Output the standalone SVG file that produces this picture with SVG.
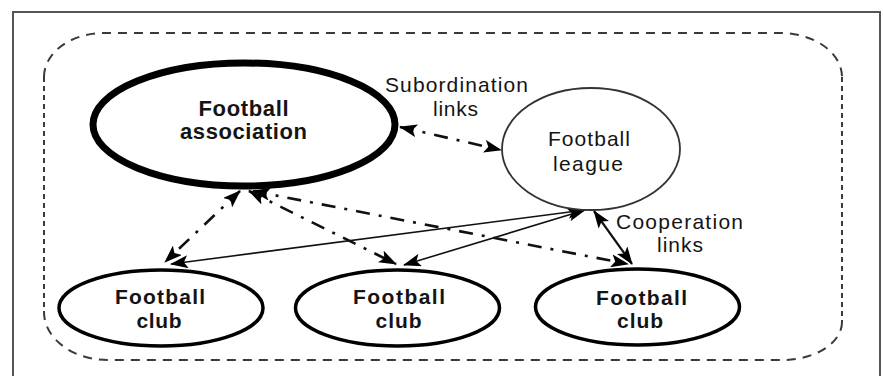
<svg xmlns="http://www.w3.org/2000/svg" width="883" height="376" viewBox="0 0 883 376">
<defs>
<style>
.frame{fill:none;stroke:#555;stroke-width:2}
.bound{fill:none;stroke:#3a3a3a;stroke-width:2}
.fa{fill:#fff;stroke:#000;stroke-width:7}
.club{fill:#fff;stroke:#000;stroke-width:3.5}
.league{fill:#fff;stroke:#333;stroke-width:1.8}
.dd{fill:none;stroke:#111;stroke-width:2.6;stroke-dasharray:14 9 3 9}
.solid{fill:none;stroke:#111;stroke-width:1.6}
.coop{fill:none;stroke:#111;stroke-width:2.2}
.b{font-family:"Liberation Sans",Arial,sans-serif;font-weight:bold;font-size:21px;fill:#141414;text-anchor:middle}
.r{font-family:"Liberation Sans",Arial,sans-serif;font-size:21px;fill:#141414;text-anchor:middle}
</style>
<marker id="arr" viewBox="0 0 18 13" refX="17" refY="6.5" markerWidth="18" markerHeight="13" markerUnits="userSpaceOnUse" orient="auto-start-reverse">
<path d="M0,0 L18,6.5 L0,13 L4,6.5 Z" fill="#000" stroke="none"/>
</marker>
</defs>
<rect width="883" height="376" fill="#fff"/>
<rect class="frame" x="13" y="12" width="867" height="380"/>
<g id="boundary">
<path class="bound" style="stroke-dasharray:9 7" d="M44,77 A60,44 0 0 1 104,33 H780 A62,44 0 0 1 842,77"/>
<path class="bound" style="stroke-dasharray:9 7" d="M842,322 A60,38 0 0 1 782,360 H108 A64,48 0 0 1 44,312"/>
<path class="bound" style="stroke-dasharray:5 4" d="M44,77 V312 M842,77 V322"/>
</g>
<g id="connectors">
<line class="dd" x1="400" y1="127" x2="501" y2="150" marker-start="url(#arr)" marker-end="url(#arr)"/>
<line class="dd" x1="240" y1="191" x2="165" y2="262" marker-start="url(#arr)" marker-end="url(#arr)"/>
<line class="dd" x1="249" y1="191" x2="396" y2="264" marker-start="url(#arr)" marker-end="url(#arr)"/>
<line class="dd" x1="253" y1="191" x2="628" y2="264" marker-start="url(#arr)" marker-end="url(#arr)"/>
<line class="solid" x1="585" y1="210" x2="171" y2="264" marker-start="url(#arr)" marker-end="url(#arr)"/>
<line class="solid" x1="585" y1="210" x2="404" y2="265" marker-start="url(#arr)" marker-end="url(#arr)"/>
<line class="coop" x1="594" y1="211" x2="632" y2="264" marker-start="url(#arr)" marker-end="url(#arr)"/>
</g>
<g id="football-association">
<ellipse class="fa" cx="244" cy="124.5" rx="151" ry="61.5"/>
<text class="b" style="font-size:22px" x="243.5" y="115.5" textLength="90" lengthAdjust="spacing">Football</text>
<text class="b" style="font-size:22px" x="243.5" y="139" textLength="127" lengthAdjust="spacing">association</text>
</g>
<g id="football-league">
<ellipse class="league" cx="591" cy="149" rx="89" ry="61"/>
<text class="r" x="589" y="145.5" textLength="82" lengthAdjust="spacing">Football</text>
<text class="r" x="588" y="170.5" textLength="70" lengthAdjust="spacing">league</text>
</g>
<g id="club-1">
<ellipse class="club" cx="161" cy="308" rx="102" ry="38"/>
<text class="b" x="160" y="304" textLength="90" lengthAdjust="spacing">Football</text>
<text class="b" x="159" y="328" textLength="45" lengthAdjust="spacing">club</text>
</g>
<g id="club-2">
<ellipse class="club" cx="397.5" cy="308" rx="102" ry="38"/>
<text class="b" x="399" y="304" textLength="92" lengthAdjust="spacing">Football</text>
<text class="b" x="398.5" y="328" textLength="46" lengthAdjust="spacing">club</text>
</g>
<g id="club-3">
<ellipse class="club" cx="637.5" cy="307" rx="102" ry="38"/>
<text class="b" x="641.5" y="304.5" textLength="91" lengthAdjust="spacing">Football</text>
<text class="b" x="640" y="328" textLength="46" lengthAdjust="spacing">club</text>
</g>
<g id="labels">
<text class="r" x="456.5" y="92" textLength="143" lengthAdjust="spacing">Subordination</text>
<text class="r" x="455.5" y="115.5" textLength="45" lengthAdjust="spacing">links</text>
<text class="r" x="679.5" y="228.5" textLength="127" lengthAdjust="spacing">Cooperation</text>
<text class="r" x="680" y="252" textLength="46" lengthAdjust="spacing">links</text>
</g>
</svg>
